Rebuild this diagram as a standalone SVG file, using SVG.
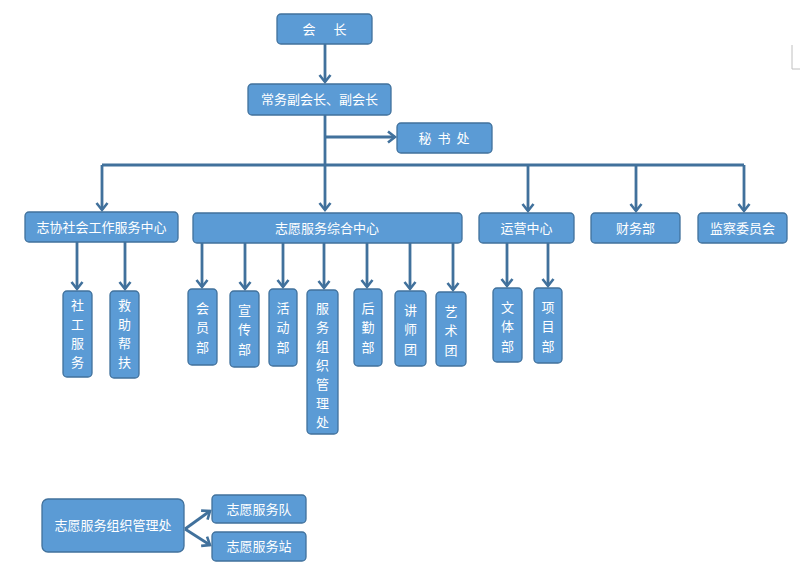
<svg xmlns="http://www.w3.org/2000/svg" width="800" height="573" viewBox="0 0 800 573">
<defs>
<marker id="arr" markerUnits="userSpaceOnUse" markerWidth="14" markerHeight="14" refX="9" refY="7" orient="auto">
<path d="M2,1.5 L9,7 L2,12.5" fill="none" stroke="#41719C" stroke-width="2.6" stroke-linejoin="miter"/>
</marker>
<style>
.box{fill:#5B9BD5;stroke:#41719C;stroke-width:1.3}
.t{font-family:"Noto Sans CJK SC","Noto Sans",sans-serif;font-size:13px;fill:#FFFFFF;text-anchor:middle}
.c{fill:none;stroke:#41719C;stroke-width:2.8}
.a{marker-end:url(#arr)}
</style>
</defs>
<rect width="800" height="573" fill="#FFFFFF"/>
<path d="M792,45 V69 H800" fill="none" stroke="#C0C0C0" stroke-width="1"/>

<g id="connectors">
<path class="c a" d="M325,44 V82"/>
<path class="c a" d="M325,115 V210"/>
<path class="c a" d="M325,137 H395"/>
<path class="c" d="M102,165 H744"/>
<path class="c a" d="M102,165 V210"/>
<path class="c a" d="M528,165 V211"/>
<path class="c a" d="M636,165 V211"/>
<path class="c a" d="M744,165 V211"/>
<path class="c a" d="M77,242 V289"/>
<path class="c a" d="M125,242 V289"/>
<path class="c a" d="M202,243 V287"/>
<path class="c a" d="M245,243 V289"/>
<path class="c a" d="M283,243 V287"/>
<path class="c a" d="M324,243 V288"/>
<path class="c a" d="M367,243 V287"/>
<path class="c a" d="M410,243 V289"/>
<path class="c a" d="M453,243 V290"/>
<path class="c a" d="M507,243 V286"/>
<path class="c a" d="M548,243 V286"/>
<path class="c a" d="M185,529 L210,511"/>
<path class="c a" d="M185,529 L210,545"/>
</g>

<g id="n-huizhang"><rect class="box" x="277" y="14" width="95" height="30" rx="4"/><text class="t" y="34"><tspan x="309">会</tspan><tspan x="340">长</tspan></text></g>
<g id="n-fuhuizhang"><rect class="box" x="248" y="84" width="143" height="31" rx="4"/><text class="t" x="319.5" y="104">常务副会长、副会长</text></g>
<g id="n-mishuchu"><rect class="box" x="397" y="123" width="95" height="30" rx="4"/><text class="t" y="143"><tspan x="425">秘</tspan><tspan x="444">书</tspan><tspan x="463">处</tspan></text></g>

<g id="n-zhixie"><rect class="box" x="25" y="212" width="153" height="30" rx="4"/><text class="t" x="101.5" y="232">志协社会工作服务中心</text></g>
<g id="n-zonghe"><rect class="box" x="193" y="213" width="269" height="30" rx="4"/><text class="t" x="327" y="233">志愿服务综合中心</text></g>
<g id="n-yunying"><rect class="box" x="479" y="213" width="95" height="30" rx="4"/><text class="t" x="526.5" y="233">运营中心</text></g>
<g id="n-caiwu"><rect class="box" x="591" y="213" width="89" height="30" rx="4"/><text class="t" x="635.5" y="233">财务部</text></g>
<g id="n-jiancha"><rect class="box" x="698" y="213" width="89" height="30" rx="4"/><text class="t" x="742.5" y="233">监察委员会</text></g>

<g id="n-shegong"><rect class="box" x="63" y="291" width="29" height="86" rx="4"/><text class="t"><tspan x="77.5" y="310">社</tspan><tspan x="77.5" y="329">工</tspan><tspan x="77.5" y="348">服</tspan><tspan x="77.5" y="367">务</tspan></text></g>
<g id="n-jiuzhu"><rect class="box" x="110" y="291" width="29" height="87" rx="4"/><text class="t"><tspan x="124.5" y="310">救</tspan><tspan x="124.5" y="329">助</tspan><tspan x="124.5" y="348">帮</tspan><tspan x="124.5" y="367">扶</tspan></text></g>

<g id="n-huiyuan"><rect class="box" x="188" y="289" width="29" height="76" rx="4"/><text class="t"><tspan x="202.5" y="313">会</tspan><tspan x="202.5" y="332">员</tspan><tspan x="202.5" y="352">部</tspan></text></g>
<g id="n-xuanchuan"><rect class="box" x="230" y="291" width="29" height="76" rx="4"/><text class="t"><tspan x="244.5" y="315">宣</tspan><tspan x="244.5" y="334">传</tspan><tspan x="244.5" y="354">部</tspan></text></g>
<g id="n-huodong"><rect class="box" x="269" y="289" width="28" height="77" rx="4"/><text class="t"><tspan x="283" y="313">活</tspan><tspan x="283" y="332">动</tspan><tspan x="283" y="352">部</tspan></text></g>
<g id="n-fuwuzuzhi"><rect class="box" x="307" y="290" width="31" height="144" rx="4"/><text class="t"><tspan x="322.5" y="313">服</tspan><tspan x="322.5" y="332">务</tspan><tspan x="322.5" y="351">组</tspan><tspan x="322.5" y="370">织</tspan><tspan x="322.5" y="389">管</tspan><tspan x="322.5" y="408">理</tspan><tspan x="322.5" y="427">处</tspan></text></g>
<g id="n-houqin"><rect class="box" x="354" y="289" width="28" height="77" rx="4"/><text class="t"><tspan x="368" y="313">后</tspan><tspan x="368" y="332">勤</tspan><tspan x="368" y="352">部</tspan></text></g>
<g id="n-jiangshi"><rect class="box" x="395" y="291" width="31" height="75" rx="4"/><text class="t"><tspan x="410.5" y="315">讲</tspan><tspan x="410.5" y="334">师</tspan><tspan x="410.5" y="354">团</tspan></text></g>
<g id="n-yishu"><rect class="box" x="436" y="292" width="30" height="74" rx="4"/><text class="t"><tspan x="451" y="316">艺</tspan><tspan x="451" y="335">术</tspan><tspan x="451" y="355">团</tspan></text></g>

<g id="n-wenti"><rect class="box" x="493" y="288" width="29" height="74" rx="4"/><text class="t"><tspan x="507.5" y="312">文</tspan><tspan x="507.5" y="331">体</tspan><tspan x="507.5" y="351">部</tspan></text></g>
<g id="n-xiangmu"><rect class="box" x="534" y="288" width="28" height="75" rx="4"/><text class="t"><tspan x="548" y="312">项</tspan><tspan x="548" y="331">目</tspan><tspan x="548" y="351">部</tspan></text></g>

<g id="n-guanlichu"><rect class="box" x="42" y="499" width="142" height="53" rx="6"/><text class="t" x="113" y="530">志愿服务组织管理处</text></g>
<g id="n-dui"><rect class="box" x="212" y="495" width="94" height="28" rx="4"/><text class="t" x="259" y="514">志愿服务队</text></g>
<g id="n-zhan"><rect class="box" x="212" y="532" width="94" height="29" rx="4"/><text class="t" x="259" y="551">志愿服务站</text></g>
</svg>
